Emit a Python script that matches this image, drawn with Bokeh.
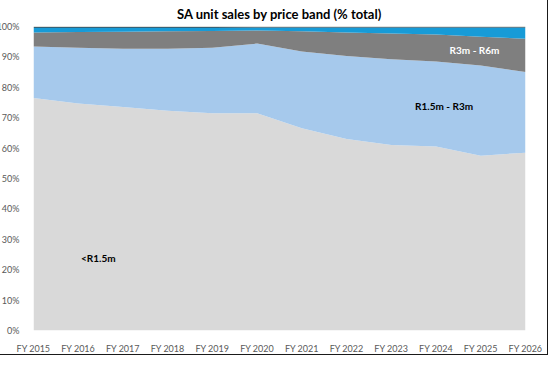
import numpy as np
from bokeh.plotting import figure
from bokeh.models import FixedTicker, PrintfTickFormatter, Label, Range1d, Title
from bokeh.embed import file_html
from bokeh.resources import INLINE

# ---- data ----
years = [2015, 2016, 2017, 2018, 2019, 2020, 2021, 2022, 2023, 2024, 2025, 2026]
year_labels = ["FY 2015", "FY 2016", "FY 2017", "FY 2018", "FY 2019", "FY 2020",
               "FY 2021", "FY 2022", "FY 2023", "FY 2024", "FY 2025", "FY 2026"]
band_names = ["<R1.5m", "R1.5m - R3m", "R3m - R6m", "R6m - R10m",
              "R10m - R15m", "R15m - R20m", "R20m+"]
lt_r1_5m = [76.5, 74.7, 73.5, 72.3, 71.5, 71.5, 66.5, 63.0, 61.0, 60.5, 57.5, 58.5]
r1_5m_r3m = [16.9, 18.3, 19.2, 20.4, 21.5, 22.9, 25.3, 27.3, 28.2, 28.0, 29.7, 26.5]
r3m_r6m = [4.6, 5.2, 5.6, 5.7, 5.5, 4.3, 6.6, 7.7, 8.5, 8.9, 9.4, 11.0]
r6m_r10m = [1.5, 1.3, 1.2, 1.1, 1.0, 0.9, 1.2, 1.6, 1.9, 2.2, 3.0, 3.6]
r10m_r15m = [0.3, 0.3, 0.3, 0.3, 0.3, 0.2, 0.2, 0.2, 0.2, 0.2, 0.2, 0.2]
r15m_r20m = [0.15, 0.15, 0.15, 0.15, 0.15, 0.15, 0.15, 0.15, 0.15, 0.15, 0.15, 0.15]
r20m_plus = [0.05, 0.05, 0.05, 0.05, 0.05, 0.05, 0.05, 0.05, 0.05, 0.05, 0.05, 0.05]
band_values = [lt_r1_5m, r1_5m_r3m, r3m_r6m, r6m_r10m, r10m_r15m, r15m_r20m, r20m_plus]
band_colors = ["#D9D9D9", "#A6C9EC", "#7F7F7F", "#179BD7", "#33627A", "#8A3F9E", "#7CB342"]

# in-chart labels: (text, x position in years, y in %, colour)
area_labels = [("<R1.5m", 2016.45, 24.0, "#000000"),
               ("R1.5m - R3m", 2024.18, 74.0, "#000000"),
               ("R3m - R6m", 2024.86, 92.2, "#FFFFFF")]

FONT = "Lato"

p = figure(width=556, height=363, output_backend="svg", toolbar_location=None,
           x_range=Range1d(years[0], years[-1]), y_range=Range1d(0, 100),
           min_border_left=36, min_border_right=24, min_border_top=33,
           min_border_bottom=22)
p.styles = {"margin": "-8px -8px -8px -8px", "border": "1px solid #1a1a1a"}

x = np.array(years, dtype=float)
vals = np.array(band_values, dtype=float)
tot = vals.sum(axis=0)
vals = vals / tot * 100.0
cum = np.vstack([np.zeros(len(years)), np.cumsum(vals, axis=0)])
for i, name in enumerate(band_names):
    p.varea(x=x, y1=cum[i], y2=cum[i + 1], fill_color=band_colors[i], fill_alpha=1.0)

for txt, lx, ly, col in area_labels:
    p.add_layout(Label(x=lx, y=ly, text=txt, text_align="center",
                       text_baseline="middle", text_font=FONT,
                       text_font_style="bold", text_font_size="10px",
                       text_color=col))

title = Title(text="SA unit sales by price band (% total)", align="center",
              text_font=FONT, text_font_size="13px", text_font_style="bold",
              text_color="#000000", standoff=10)
p.add_layout(title, "above")

p.xaxis.ticker = FixedTicker(ticks=years)
p.xaxis.major_label_overrides = {y: l for y, l in zip(years, year_labels)}
p.yaxis.ticker = FixedTicker(ticks=list(range(0, 101, 10)))
p.yaxis.formatter = PrintfTickFormatter(format="%d%%")
for ax in (p.xaxis, p.yaxis):
    ax.axis_line_color = None
    ax.major_tick_line_color = None
    ax.minor_tick_line_color = None
    ax.major_label_text_font = FONT
    ax.major_label_text_font_size = "9px"
    ax.major_label_text_color = "#595959"
p.xaxis.major_label_standoff = 6
p.yaxis.major_label_standoff = 8

p.xgrid.grid_line_color = None
p.ygrid.grid_line_color = None
p.outline_line_color = None
p.background_fill_color = "white"
p.border_fill_color = "white"

open("out.html", "w").write(file_html(p, INLINE))
